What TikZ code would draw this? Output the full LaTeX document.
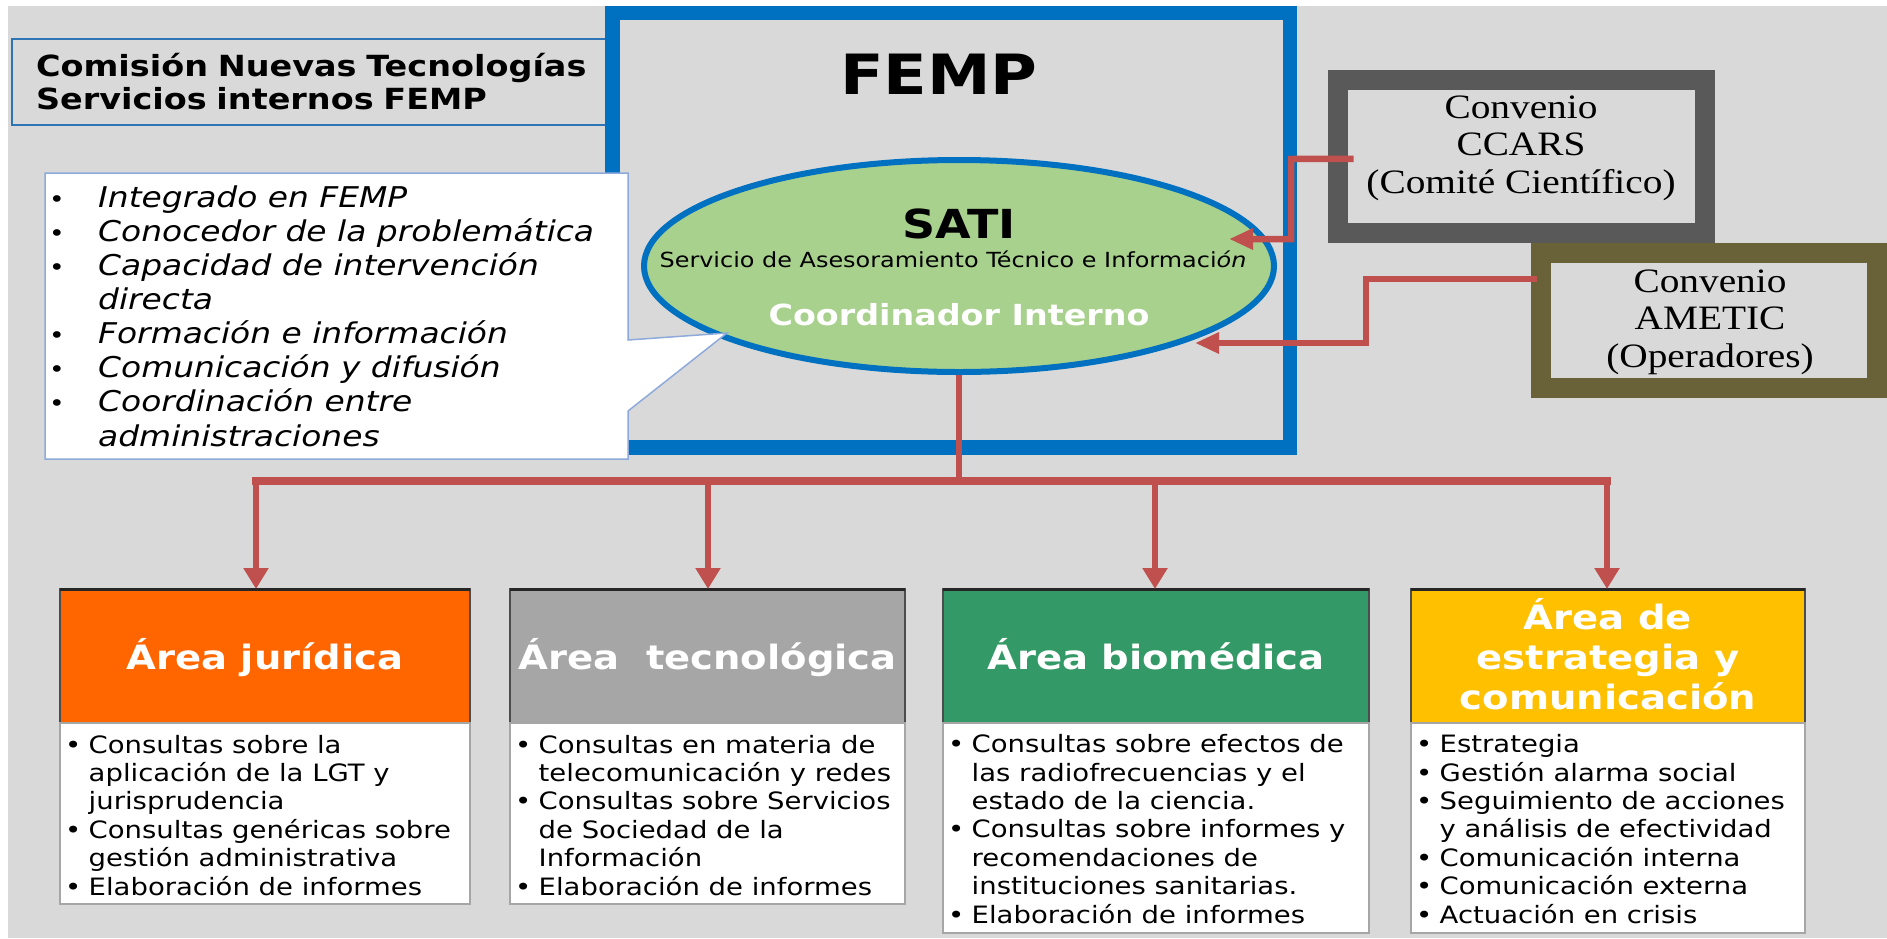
\documentclass[tikz,border=0pt]{standalone}
\usepackage{fontspec}
\setmainfont[FakeStretch=1.15]{DejaVu Sans}
\newfontfamily\tnr[FakeStretch=1.15]{Liberation Serif}
\usetikzlibrary{arrows.meta,shapes.geometric,calc}
\definecolor{bgc}{HTML}{D9D9D9}
\definecolor{fempc}{HTML}{0070C0}
\definecolor{ttlc}{HTML}{2E75B6}
\definecolor{ellc}{HTML}{A9D18E}
\definecolor{connc}{HTML}{C0504D}
\definecolor{ccarsc}{HTML}{595959}
\definecolor{ameticc}{HTML}{696239}
\definecolor{callc}{HTML}{8EAADB}
\definecolor{jurc}{HTML}{FF6600}
\definecolor{tecc}{HTML}{A6A6A6}
\definecolor{bioc}{HTML}{339966}
\definecolor{estc}{HTML}{FFC000}
\newcommand\calbul{\makebox[49pt][l]{\upshape\fontsize{23pt}{23pt}\selectfont\textbullet}}
\newcommand\bodybul{\makebox[23.5pt][l]{\textbullet}}
\begin{document}
\begin{tikzpicture}[x=1pt,y=-1pt,
  ring/.style={draw, anchor=north west, inner sep=0pt, outer sep=0pt},
  conn/.style={draw=connc, line width=6.5pt},
  harrow/.style={conn, -{Triangle[width=20pt,length=24pt]}},
  varrow/.style={conn, -{Triangle[width=24pt,length=21pt]}},
  hdr/.style={draw=black!70, line width=1.2pt, anchor=north west, inner sep=0pt, outer sep=0pt, minimum height=134pt},
  bodybox/.style={draw=black!35, line width=1.5pt, fill=white, anchor=north west, inner sep=0pt, outer sep=0pt},
  hdrtext/.style={anchor=base, text=white, align=center, inner sep=0pt, font=\bfseries\fontsize{33.5pt}{40pt}\selectfont},
  bodytext/.style={anchor=base west, align=left, inner sep=0pt, font=\fontsize{23.9pt}{28.4pt}\selectfont},
  convtext/.style={anchor=base, align=center, inner sep=0pt, font=\tnr\fontsize{34.2pt}{37.5pt}\selectfont}
]
\useasboundingbox (0,0) rectangle (1887,938);
\fill[bgc] (8,6) rectangle (1887,938);

% title
\node[draw=ttlc, line width=2pt, anchor=north west, minimum width=593pt, minimum height=86pt,
  inner xsep=24pt, inner ysep=0pt, outer sep=0pt, text width=556pt, align=left,
  font=\bfseries\fontsize{29.1pt}{33pt}\selectfont] (title) at (12,39)
  {Comisión Nuevas Tecnologías\\Servicios internos FEMP};

% FEMP frame
\node[ring, draw=fempc, line width=14.5pt, minimum width=677.5pt, minimum height=434.5pt] (femp) at (612.5,13) {};
\node[anchor=base, inner sep=0pt, font=\bfseries\fontsize{55.5pt}{55.5pt}\selectfont] (fempT) at (939,94) {FEMP};

% SATI ellipse
\node[ellipse, draw=fempc, fill=ellc, line width=6pt, minimum width=630pt, minimum height=212pt,
  inner sep=0pt, outer sep=0pt] (sati) at (959,266) {};
\node[anchor=base, inner sep=0pt, font=\bfseries\fontsize{40pt}{40pt}\selectfont] (satiT) at (959,238) {SATI};
\node[anchor=base, inner sep=0pt, font=\fontsize{20.8pt}{20.8pt}\selectfont] (satiS) at (953,267)
  {Servicio de Asesoramiento Técnico e Informaci\textit{ón}};
\node[anchor=base, inner sep=0pt, text=white, font=\bfseries\fontsize{29pt}{29pt}\selectfont] (satiC) at (959,325) {Coordinador Interno};

% convenios
\node[ring, draw=ccarsc, line width=20pt, minimum width=367.5pt, minimum height=153.5pt] (ccars) at (1337.5,79.5) {};
\node[convtext] (ccarsT) at (1521,193) {Convenio\\CCARS\\(Comité Científico)};
\node[ring, draw=ameticc, line width=20pt, minimum width=336pt, minimum height=135pt] (ametic) at (1541,253) {};
\node[convtext] (ameticT) at (1710,367) {Convenio\\AMETIC\\(Operadores)};

% connectors from convenios
\coordinate (satiIn1) at (1229,239);
\coordinate (satiIn2) at (1195,343);
\draw[harrow] ($(ccars.west)+(16,2.5)$) -- (1291,159) -- (1291,239) -- (satiIn1);
\draw[harrow] ($(ametic.north west)+(-4,26)$) -- (1366,279) -- (1366,343) -- (satiIn2);

% callout
\draw[draw=callc, fill=white, line width=1.5pt]
  (45,173) -- (628,173) -- (628,340) -- (727,333) -- (628,411) -- (628,459) -- (45,459) -- cycle;
\node[anchor=base west, align=left, inner sep=0pt, font=\itshape\fontsize{28.6pt}{34.1pt}\selectfont] (callT) at (49,446)
  {\calbul Integrado en FEMP\\
   \calbul Conocedor de la problemática\\
   \calbul Capacidad de intervención\\
   \hspace*{49pt}directa\\
   \calbul Formación e información\\
   \calbul Comunicación y difusión\\
   \calbul Coordinación entre\\
   \hspace*{49pt}administraciones};

% area boxes
\node[hdr, fill=jurc, minimum width=410pt] (jurH) at (60,589) {};
\node[bodybox, minimum width=410pt, minimum height=181pt] (jurB) at (60,723) {};
\node[hdr, fill=tecc, minimum width=395pt] (tecH) at (510,589) {};
\node[bodybox, minimum width=395pt, minimum height=181pt] (tecB) at (510,723) {};
\node[hdr, fill=bioc, minimum width=426pt] (bioH) at (943,589) {};
\node[bodybox, minimum width=426pt, minimum height=210pt] (bioB) at (943,723) {};
\node[hdr, fill=estc, minimum width=394pt] (estH) at (1411,589) {};
\node[bodybox, minimum width=394pt, minimum height=210pt] (estB) at (1411,723) {};
\foreach \h in {jurH,tecH,bioH,estH}{
  \draw[line width=3pt, black!85] (\h.north west) -- (\h.north east);
}
\node[hdrtext] (jurT) at (265,669) {Área jurídica};
\node[hdrtext] (tecT) at (707.5,669) {Área\ \ tecnológica};
\node[hdrtext] (bioT) at (1156,669) {Área biomédica};
\node[hdrtext] (estT) at (1608,709) {Área de\\estrategia y\\comunicación};

\node[bodytext] (jurL) at (65,895)
  {\bodybul Consultas sobre la\\
   \hspace*{23.5pt}aplicación de la LGT y\\
   \hspace*{23.5pt}jurisprudencia\\
   \bodybul Consultas genéricas sobre\\
   \hspace*{23.5pt}gestión administrativa\\
   \bodybul Elaboración de informes};
\node[bodytext] (tecL) at (515,895)
  {\bodybul Consultas en materia de\\
   \hspace*{23.5pt}telecomunicación y redes\\
   \bodybul Consultas sobre Servicios\\
   \hspace*{23.5pt}de Sociedad de la\\
   \hspace*{23.5pt}Información\\
   \bodybul Elaboración de informes};
\node[bodytext] (bioL) at (948,923)
  {\bodybul Consultas sobre efectos de\\
   \hspace*{23.5pt}las radiofrecuencias y el\\
   \hspace*{23.5pt}estado de la ciencia.\\
   \bodybul Consultas sobre informes y\\
   \hspace*{23.5pt}recomendaciones de\\
   \hspace*{23.5pt}instituciones sanitarias.\\
   \bodybul Elaboración de informes};
\node[bodytext] (estL) at (1416,923)
  {\bodybul Estrategia\\
   \bodybul Gestión alarma social\\
   \bodybul Seguimiento de acciones\\
   \hspace*{23.5pt}y análisis de efectividad\\
   \bodybul Comunicación interna\\
   \bodybul Comunicación externa\\
   \bodybul Actuación en crisis};

% tree connectors
\coordinate (busC) at (959,481);
\coordinate (busL) at (256,481);
\coordinate (bus2) at (708,481);
\coordinate (bus3) at (1155,481);
\coordinate (busR) at (1607,481);
\draw[conn] ($(sati.south)+(0,3)$) -- (busC);
\draw[conn, line width=8pt, line cap=rect] (busL) -- (busR);
\draw[varrow] (busL) -- (busL |- jurH.north);
\draw[varrow] (bus2) -- (bus2 |- tecH.north);
\draw[varrow] (bus3) -- (bus3 |- bioH.north);
\draw[varrow] (busR) -- (busR |- estH.north);
\end{tikzpicture}
\end{document}
